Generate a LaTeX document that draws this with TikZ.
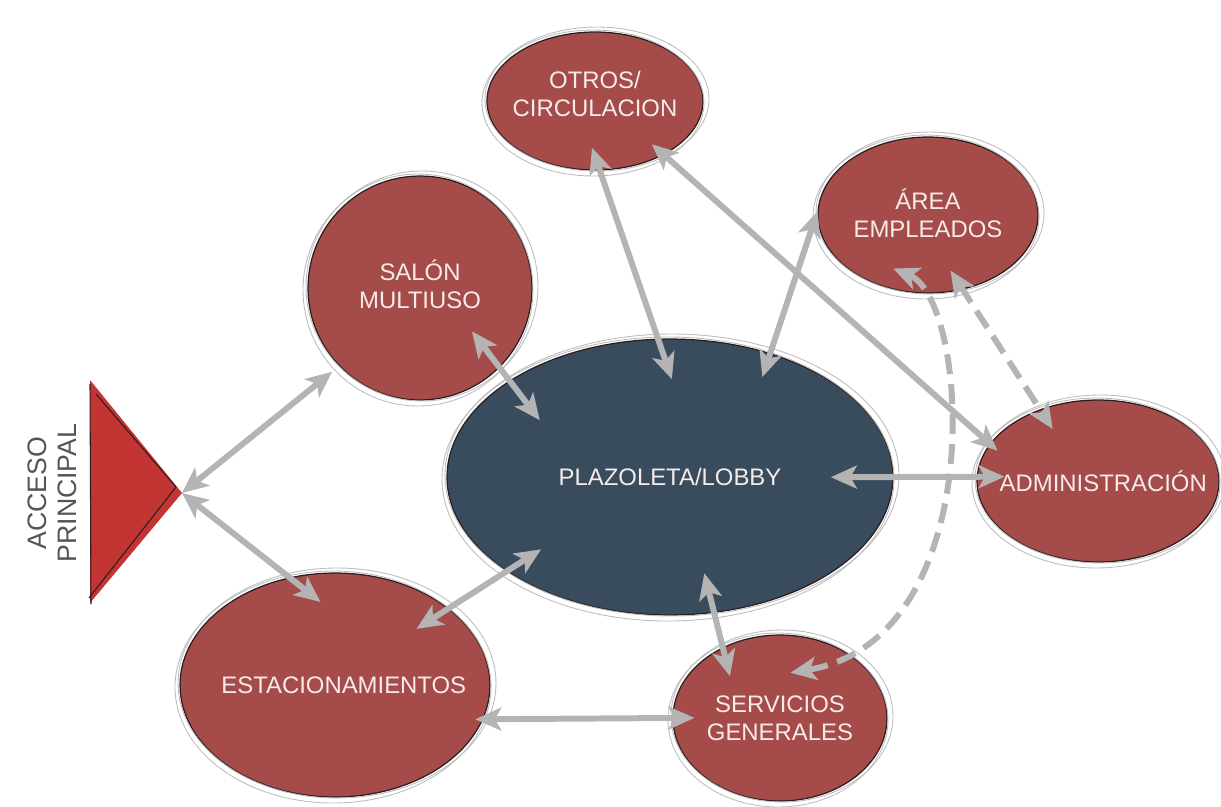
\documentclass[tikz,border=0pt]{standalone}
\usepackage{fontspec}
\setmainfont{Liberation Sans}
\usepackage{tikz}
\usetikzlibrary{arrows.meta,calc,shapes.geometric}
\definecolor{roomred}{HTML}{A54B4A}
\definecolor{hubblue}{HTML}{394C5E}
\definecolor{roomedge}{HTML}{2A1E1E}
\definecolor{roomtext}{HTML}{F5ECEA}
\definecolor{linkgray}{HTML}{B4B4B4}
\definecolor{sketchgray}{HTML}{BDBDBD}
\definecolor{accessred}{HTML}{C23533}
\definecolor{labelgray}{HTML}{555555}
\newcommand\roomfont{\fontsize{13.6}{15.9}\selectfont}

\begin{document}
\begin{tikzpicture}[
  x=0.02cm, y=-0.02cm,
  room/.style={ellipse,draw=roomedge,line width=0.7pt,fill=roomred,inner sep=0pt},
  hub/.style={room,fill=hubblue},
  roomtxt/.style={text=roomtext,font=\roomfont,align=center,inner sep=0pt},
  sketch/.style={draw=sketchgray,line width=0.5pt},
  link/.style={{Stealth[length=5.2mm,width=4.6mm,inset=1.3mm]}-{Stealth[length=5.2mm,width=4.6mm,inset=1.3mm]},
               linkgray,line width=3.4pt},
  dlink/.style={link,dash pattern=on 0.4cm off 0.2cm}
]
  \useasboundingbox (0,0) rectangle (1221,806);

  % rooms
  \node[room,minimum width=4.32cm,minimum height=2.76cm,
        label={[roomtxt,yshift=4pt]center:OTROS/\\CIRCULACION}] (otros) at (595,101) {};
  \node[room,minimum width=4.4cm,minimum height=3.12cm,
        label={[roomtxt,yshift=1pt]center:ÁREA\\EMPLEADOS}] (area) at (928,215) {};
  \node[room,minimum width=4.48cm,minimum height=4.48cm,
        label={[roomtxt,yshift=2pt]center:SALÓN\\MULTIUSO}] (salon) at (420,288) {};
  \node[hub,minimum width=8.92cm,minimum height=5.52cm,
        label={[roomtxt]center:PLAZOLETA/LOBBY}] (plaz) at (670,477) {};
  \node[room,minimum width=4.84cm,minimum height=3.24cm,
        label={[roomtxt,xshift=3pt]center:ADMINISTRACIÓN}] (admin) at (1098,481) {};
  \node[room,minimum width=6.2cm,minimum height=4.48cm,
        label={[roomtxt,xshift=5pt]center:ESTACIONAMIENTOS}] (estac) at (335,685) {};
  \node[room,minimum width=4.28cm,minimum height=3.32cm,
        label={[roomtxt]center:SERVICIOS\\GENERALES}] (serv) at (780,718) {};

  % hand drawn rings
  \foreach \cx/\cy/\rx/\ry in {595/101/108/69, 928/215/110/78, 420/288/112/112,
      670/477/223/138, 1098/481/121/81, 335/685/155/112, 780/718/107/83} {
    \draw[sketch] (\cx+2,\cy-2) ellipse [x radius=\rx+4, y radius=\ry+3];
    \draw[sketch] (\cx-2,\cy+2) ellipse [x radius=\rx+3, y radius=\ry+4];
  }

  % main access
  \coordinate (acceso) at (182,493);
  \fill[accessred] (90,380) -- (acceso) -- (90,603) -- cycle;
  \draw[roomedge,line width=0.6pt] (96,394) -- (176,487) -- (89,598);
  \draw[roomedge,line width=0.6pt] (90,384) -- (91,604);
  \node[rotate=90,text=labelgray,font=\fontsize{15.2}{17}\selectfont,align=center]
    (accesolabel) at (52,493) {ACCESO\\PRINCIPAL};

  % links
  \draw[link,shorten >=5pt] (acceso) -- (salon.224);
  \draw[link,shorten >=-22.6pt] (acceso) -- (estac.113);
  \draw[link,shorten <=-25.9pt,shorten >=-28.4pt] (salon.-45.3) -- (plaz.149.5);
  \draw[link,shorten <=-13.7pt,shorten >=-24.4pt] (otros.-86.1) -- (plaz.95.7);
  \draw[link,shorten >=-14.3pt] (area.178) -- (plaz.51.8);
  \draw[link,shorten <=-9.1pt,shorten >=-5.9pt] (otros.-38.2) -- (admin.161.1);
  \draw[link,shorten <=-35.7pt,shorten >=-15.9pt] (plaz.-0.5) -- (admin.178.6);
  \draw[dlink,shorten <=-12.9pt,shorten >=-13.3pt] (area.-65.2) -- (admin.129.6);
  \draw[dlink] ($(area)!.75!(area.-123)$) .. controls +(77,32) and +(200,-33)
    .. ($(serv)!.55!(serv.77.5)$);
  \draw[link,shorten <=-23.2pt,shorten >=-17pt] (plaz.-72.5) -- (serv.129.6);
  \draw[link,shorten <=-21.8pt,shorten >=-23.4pt] (estac.34) -- (plaz.210.8);
  \draw[link,shorten <=-4.5pt,shorten >=-12.5pt] (estac.-13) -- (serv.west);
\end{tikzpicture}
\end{document}
